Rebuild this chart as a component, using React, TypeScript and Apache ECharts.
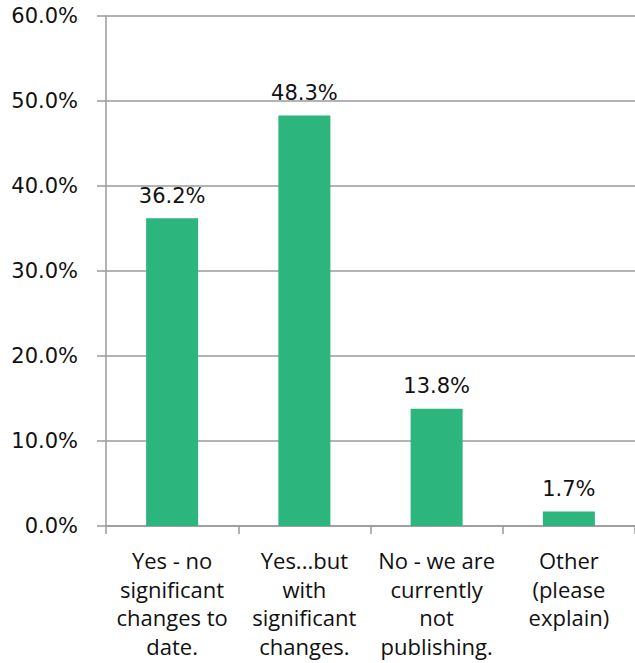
import React, { useEffect, useRef } from "react";
import * as echarts from "echarts";

const categories = [
  "Yes - no\nsignificant\nchanges to\ndate.",
  "Yes...but\nwith\nsignificant\nchanges.",
  "No - we are\ncurrently\nnot\npublishing.",
  "Other\n(please\nexplain)",
];
const values = [36.2, 48.3, 13.8, 1.7];
const yMin = 0;
const yMax = 60;
const yInterval = 10;

export default function App() {
  const ref = useRef<HTMLDivElement>(null);
  useEffect(() => {
    if (!ref.current) return;
    const chart = echarts.init(ref.current, null, { renderer: "svg" });
    chart.setOption({
      animation: false,
      grid: { left: 106, right: -4, top: 16, bottom: 137, containLabel: false },
      xAxis: {
        type: "category",
        data: categories,
        axisLine: { show: true, lineStyle: { color: "#9a9a9a", width: 1.5 } },
        axisTick: { show: true, length: 8, lineStyle: { color: "#9a9a9a", width: 1.5 } },
        axisLabel: {
          interval: 0,
          margin: 20,
          color: "#111",
          fontFamily: "Open Sans",
          fontSize: 22,
          lineHeight: 28.5,
        },
      },
      yAxis: {
        type: "value",
        min: yMin,
        max: yMax,
        interval: yInterval,
        axisLine: { show: true, lineStyle: { color: "#9a9a9a", width: 1.5 } },
        axisTick: { show: true, length: 9, lineStyle: { color: "#9a9a9a", width: 1.5 } },
        splitLine: { show: true, lineStyle: { color: "#9a9a9a", width: 1.5 } },
        axisLabel: {
          margin: 28,
          color: "#111",
          fontFamily: "DejaVu Sans",
          fontSize: 21,
          formatter: (v: number) => v.toFixed(1) + "%",
        },
      },
      series: [
        {
          type: "bar",
          data: values,
          barWidth: 52,
          itemStyle: { color: "#2cb67e" },
          label: {
            show: true,
            position: "top",
            distance: 12,
            color: "#111",
            fontFamily: "DejaVu Sans",
            fontSize: 21,
            formatter: (p: any) => p.value.toFixed(1) + "%",
          },
        },
      ],
    });
    return () => chart.dispose();
  }, []);
  return <div ref={ref} style={{ width: 635, height: 663, position: "absolute", left: 0, top: 0 }} />;
}
